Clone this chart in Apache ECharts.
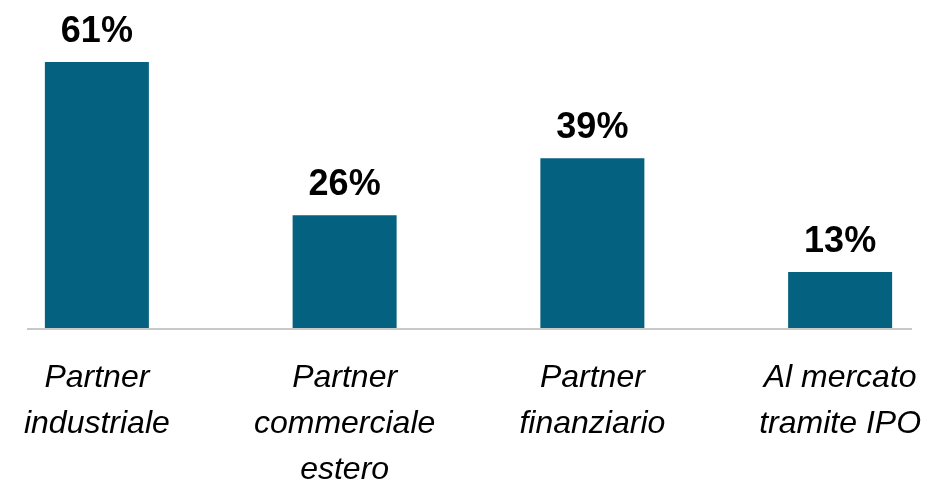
<!DOCTYPE html>
<html>
<head>
<meta charset="utf-8">
<script src="https://cdn.jsdelivr.net/npm/echarts@6/dist/echarts.min.js"></script>
<style>
  html, body { margin: 0; padding: 0; background: #fff; }
  #chart { width: 940px; height: 485px; }
</style>
</head>
<body>
<div id="chart"></div>
<script>
const categories = ['Partner\nindustriale', 'Partner\ncommerciale\nestero', 'Partner\nfinanziario', 'Al mercato\ntramite IPO'];
const values = [61, 26, 39, 13];

const chart = echarts.init(document.getElementById('chart'));
chart.setOption({
  animation: false,
  grid: { left: -27, right: -24, top: 22.6, bottom: 156, outerBoundsMode: 'none', containLabel: false },
  // axis line in the original is shorter than the category bands
  graphic: [{
    type: 'line',
    shape: { x1: 27, y1: 329, x2: 912, y2: 329 },
    style: { stroke: '#c8c8c8', lineWidth: 2 },
    z: 10
  }],
  xAxis: {
    type: 'category',
    data: categories,
    axisLine: { show: false },
    axisTick: { show: false },
    axisLabel: {
      interval: 0,
      margin: 26,
      fontFamily: 'Liberation Sans, Arial, sans-serif',
      fontStyle: 'italic',
      fontSize: 32,
      lineHeight: 46,
      color: '#000'
    }
  },
  yAxis: {
    type: 'value',
    min: 0,
    max: 70,
    show: false,
    splitLine: { show: false }
  },
  series: [{
    type: 'bar',
    data: values,
    barWidth: 104,
    itemStyle: { color: '#04617f' },
    label: {
      show: true,
      position: 'top',
      distance: 12,
      formatter: '{c}%',
      fontFamily: 'Liberation Sans, Arial, sans-serif',
      fontWeight: 'bold',
      fontSize: 36,
      color: '#000'
    }
  }]
});
</script>
</body>
</html>
